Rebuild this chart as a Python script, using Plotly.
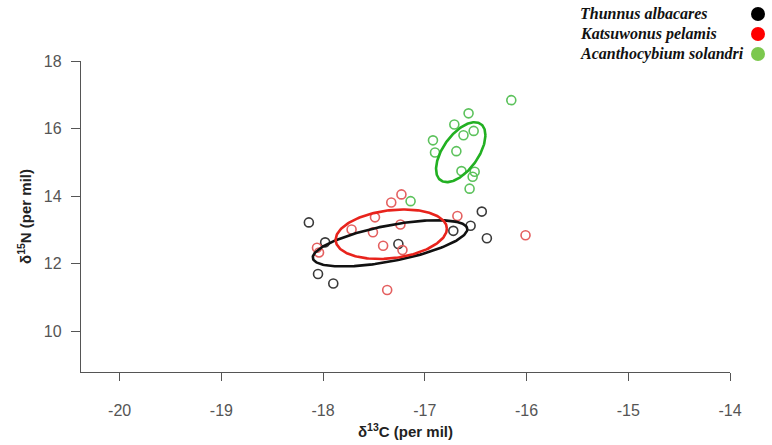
import numpy as np
import plotly.graph_objects as go

# ---- data ----
species = ["Thunnus albacares", "Katsuwonus pelamis", "Acanthocybium solandri"]

thunnus_d13c = [-18.14, -17.98, -18.05, -17.90, -17.26, -16.72, -16.55, -16.44, -16.39]
thunnus_d15n = [13.22, 12.63, 11.69, 11.41, 12.58, 12.97, 13.12, 13.54, 12.75]

katsuwonus_d13c = [-17.23, -17.33, -17.49, -17.72, -17.24, -17.51, -17.41, -17.22,
                   -18.06, -18.04, -16.68, -16.01, -17.37]
katsuwonus_d15n = [14.05, 13.81, 13.37, 13.01, 13.16, 12.93, 12.53, 12.40,
                   12.47, 12.33, 13.41, 12.84, 11.22]

acanth_d13c = [-16.15, -16.57, -16.71, -16.62, -16.52, -16.92, -16.90, -16.69,
               -16.64, -16.51, -16.53, -16.56, -17.14]
acanth_d15n = [16.84, 16.45, 16.12, 15.80, 15.93, 15.65, 15.29, 15.33,
               14.74, 14.72, 14.57, 14.22, 13.85]

# standard ellipses: centre and covariance (per mil units)
ellipse_centres = [(-17.342, 12.60), (-17.33, 12.87), (-16.647, 15.30)]
ellipse_covs = [
    [[0.577, 0.318], [0.318, 0.468]],
    [[0.299, 0.090], [0.090, 0.538]],
    [[0.0589, 0.122], [0.122, 0.788]],
]

x_ticks = [-20, -19, -18, -17, -16, -15, -14]
y_ticks = [10, 12, 14, 16, 18]

# ---- styles ----
point_colors = ["#3a3a3a", "#e46060", "#5cc25c"]
ellipse_colors = ["#111111", "#e8231c", "#22b022"]
legend_colors = ["#000000", "#ff0000", "#7cc84e"]

fig = go.Figure()

groups = [(thunnus_d13c, thunnus_d15n), (katsuwonus_d13c, katsuwonus_d15n), (acanth_d13c, acanth_d15n)]
for (xs, ys), col, name in zip(groups, point_colors, species):
    fig.add_trace(go.Scatter(
        x=xs, y=ys, mode="markers", name=name, showlegend=False,
        marker=dict(symbol="circle-open", size=9, color=col, line=dict(width=1.6, color=col)),
    ))

t = np.linspace(0, 2 * np.pi, 200)
for c, cov, col, name in zip(ellipse_centres, ellipse_covs, ellipse_colors, species):
    L = np.linalg.cholesky(np.array(cov))
    pts = L @ np.vstack([np.cos(t), np.sin(t)])
    fig.add_trace(go.Scatter(
        x=c[0] + pts[0], y=c[1] + pts[1], mode="lines", showlegend=False,
        line=dict(color=col, width=2.6), name=name, hoverinfo="skip",
    ))

# ---- custom legend (top right) ----
L_, R_, T_, B_ = 81, 42, 61, 73
W, H = 772 - L_ - R_, 445 - T_ - B_
def px2paper(px, py):
    return (px - L_) / W, (445 - B_ - py) / H

leg_y = [14, 34, 54]
for name, col, py in zip(species, legend_colors, leg_y):
    xp, yp = px2paper(578, py)
    fig.add_annotation(
        x=xp, y=yp, xref="paper", yref="paper", xanchor="left", yanchor="middle",
        text="<b><i>" + name + "</i></b>", showarrow=False,
        font=dict(family="Liberation Serif", size=16, color="#111111"),
    )
    cx, cy = px2paper(758, py)
    fig.add_shape(
        type="circle", xref="paper", yref="paper", xsizemode="pixel", ysizemode="pixel",
        xanchor=cx, yanchor=cy, x0=-7, x1=7, y0=-7, y1=7,
        fillcolor=col, line=dict(color=col, width=0),
    )

axis_col = "#555555"
fig.update_layout(
    width=772, height=445,
    margin=dict(l=L_, r=R_, t=T_, b=B_, autoexpand=False),
    paper_bgcolor="white", plot_bgcolor="white",
    font=dict(family="Liberation Sans", color=axis_col),
    xaxis=dict(
        range=[-20.38, -14], tickvals=x_ticks, ticktext=[str(v) for v in x_ticks],
        showgrid=False, zeroline=False, showline=True, linecolor=axis_col, linewidth=1.3,
        ticks="outside", ticklen=8, tickwidth=1.3, tickcolor=axis_col,
        tickfont=dict(size=16, color=axis_col, family="Liberation Sans"),
        ticklabelstandoff=16, automargin=False,
        title=dict(text="<b>δ<sup>13</sup>C (per mil)</b>", standoff=8,
                   font=dict(size=15, color="#222222", family="Liberation Sans")),
    ),
    yaxis=dict(
        range=[8.79, 18], tickvals=y_ticks, ticktext=[str(v) for v in y_ticks],
        showgrid=False, zeroline=False, showline=True, linecolor=axis_col, linewidth=1.3,
        ticks="outside", ticklen=9, tickwidth=1.3, tickcolor=axis_col,
        tickfont=dict(size=16, color=axis_col, family="Liberation Sans"),
        ticklabelstandoff=6, automargin=False,
        title=dict(text="<b>δ<sup>15</sup>N (per mil)</b>", standoff=8,
                   font=dict(size=15, color="#222222", family="Liberation Sans")),
    ),
)

fig.write_html("out.html")
